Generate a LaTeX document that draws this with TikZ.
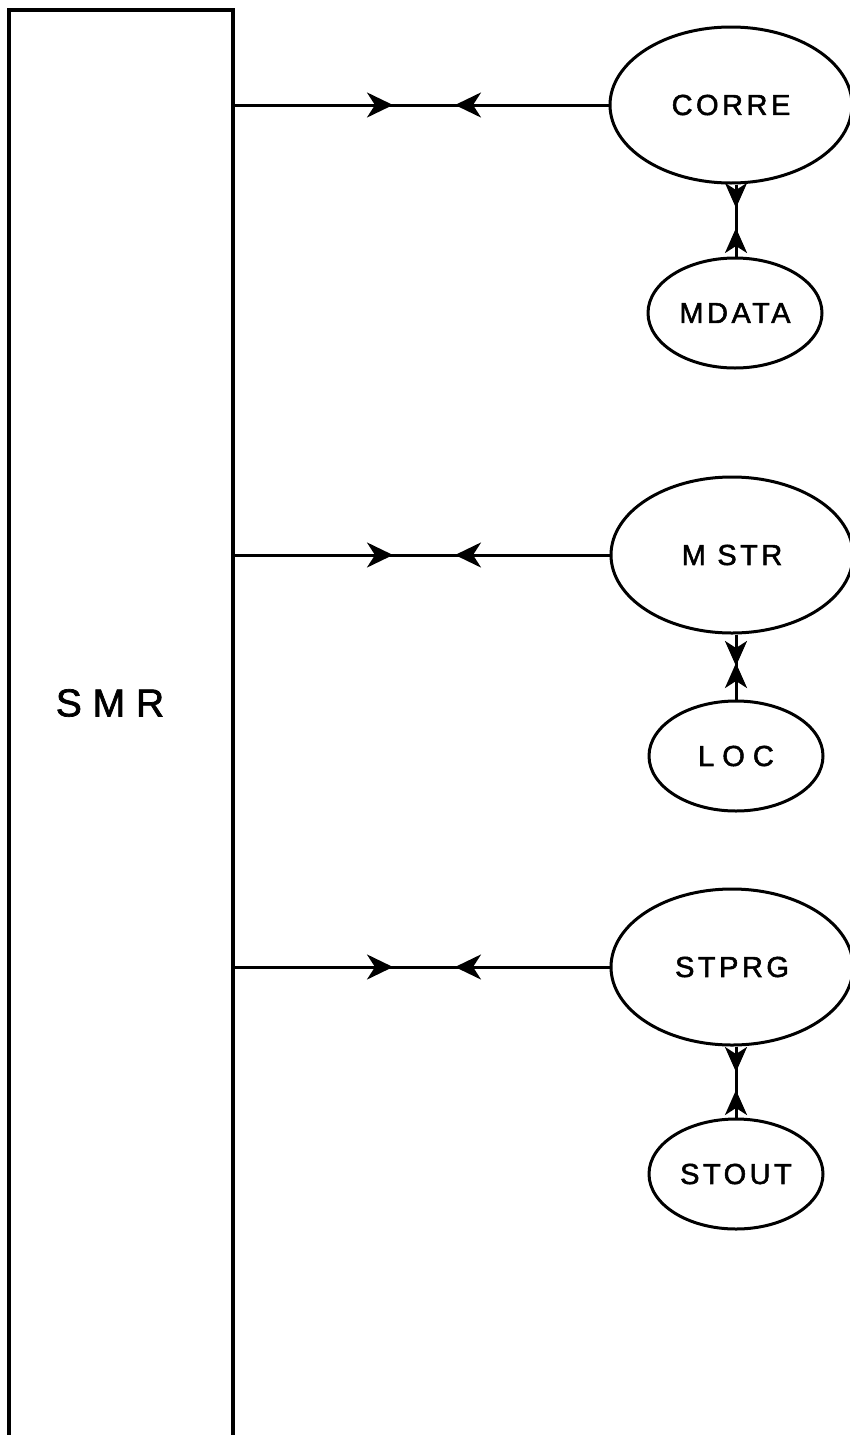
\documentclass[tikz,border=0pt]{standalone}
\usepackage{fontspec}
\setmainfont{Liberation Sans}[FakeBold=1.8]
\newfontfamily\lab{Liberation Sans}[LetterSpace=12,FakeBold=1.8]
\newfontfamily\labtight{Liberation Sans}[FakeBold=1.8]
\usetikzlibrary{shapes.geometric,arrows.meta}
\begin{document}
\begin{tikzpicture}[x=1pt,y=-1pt,
  big/.style={ellipse,draw,line width=3pt,minimum width=242pt,minimum height=156pt,inner sep=0pt,font=\lab\fontsize{29pt}{29pt}\selectfont},
  small/.style={ellipse,draw,line width=3pt,minimum width=174pt,minimum height=110pt,inner sep=0pt,font=\lab\fontsize{29pt}{29pt}\selectfont},
  conn/.style={line width=3pt},
  tipH/.style={line width=3pt,-{Stealth[length=26pt,width=25pt,inset=8pt]}},
  tipV/.style={line width=3pt,-{Stealth[length=25pt,width=22pt,inset=7pt]}},
  boxline/.style={line width=4pt}
]
\useasboundingbox (0,0) rectangle (850,1435);
% SMR box (open at bottom)
\node[minimum width=224pt,minimum height=1440pt,inner sep=0pt,anchor=north west] (smr) at (9,10) {};
\draw[boxline] (smr.south west) -- (smr.north west) -- (smr.north east) -- (smr.south east);
\node[font=\fontsize{39pt}{39pt}\selectfont] (smrlabel) at (110,703) {S M R};

% ellipses
\node[big]   (corre) at (731,105)  {CORRE};
\node[small] (mdata) at (735,313)  {MDATA};
\node[big]   (mstr)  at (732,555)  {M STR};
\node[small] (loc)   at (736,756)  {\labtight L O C};
\node[big]   (stprg) at (732,967)  {STPRG};
\node[small] (stout) at (736,1174) {STOUT};

% horizontal connectors with mid arrows
\coordinate (h1r) at (393,105);  \coordinate (h1l) at (455,105);
\coordinate (h2r) at (393,555);  \coordinate (h2l) at (455,555);
\coordinate (h3r) at (393,967);  \coordinate (h3l) at (455,967);

\draw[conn] (smr.east |- corre.west) -- (corre.west);
\draw[tipH] (smr.east |- corre.west) -- (h1r);
\draw[tipH] (corre.west) -- (h1l);

\draw[conn] (smr.east |- mstr.west) -- (mstr.west);
\draw[tipH] (smr.east |- mstr.west) -- (h2r);
\draw[tipH] (mstr.west) -- (h2l);

\draw[conn] (smr.east |- stprg.west) -- (stprg.west);
\draw[tipH] (smr.east |- stprg.west) -- (h3r);
\draw[tipH] (stprg.west) -- (h3l);

% vertical connectors
\coordinate (v1d) at (736,208);  \coordinate (v1u) at (736,228);
\coordinate (v2d) at (736,666);  \coordinate (v2u) at (736,663);
\coordinate (v3d) at (736,1072); \coordinate (v3u) at (736,1090);

\draw[conn] (v1d |- corre.south) -- (v1u |- mdata.north);
\draw[tipV] (v1d |- corre.south) -- (v1d);
\draw[tipV] (v1u |- mdata.north) -- (v1u);

\draw[conn] (v2d |- mstr.south) -- (v2u |- loc.north);
\draw[tipV] (v2d |- mstr.south) -- (v2d);
\draw[tipV] (v2u |- loc.north) -- (v2u);

\draw[conn] (v3d |- stprg.south) -- (v3u |- stout.north);
\draw[tipV] (v3d |- stprg.south) -- (v3d);
\draw[tipV] (v3u |- stout.north) -- (v3u);
\end{tikzpicture}
\end{document}
